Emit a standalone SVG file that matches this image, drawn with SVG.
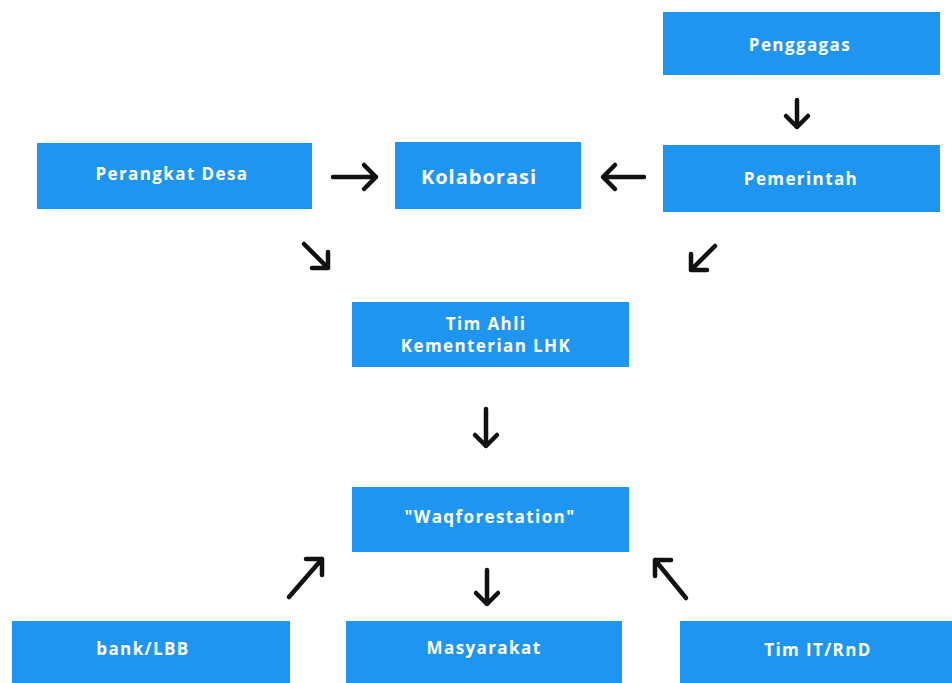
<svg xmlns="http://www.w3.org/2000/svg" width="952" height="683" viewBox="0 0 952 683">
<style>
.box{fill:#1F95F2}
.t{fill:#ffffff;font-family:"Open Sans","Liberation Sans",sans-serif;font-weight:700;font-size:17px;letter-spacing:1.4px;text-anchor:middle;dominant-baseline:central}
.big{font-size:20px;letter-spacing:1px}
.arr{fill:none;stroke:#111111;stroke-width:4.5;stroke-linecap:round;stroke-linejoin:round}
</style>
<rect width="952" height="683" fill="#ffffff"/>
<g id="penggagas"><rect class="box" x="663" y="12" width="277" height="63"/><text class="t" x="800" y="44">Penggagas</text></g>
<g id="pemerintah"><rect class="box" x="663" y="145" width="277" height="67"/><text class="t" x="801" y="178">Pemerintah</text></g>
<g id="perangkat-desa"><rect class="box" x="37" y="143" width="275" height="66"/><text class="t" x="172" y="173">Perangkat Desa</text></g>
<g id="kolaborasi"><rect class="box" x="395" y="142" width="186" height="67"/><text class="t big" x="479" y="176">Kolaborasi</text></g>
<g id="tim-ahli"><rect class="box" x="352" y="302" width="277" height="65"/><text class="t" x="486" y="323">Tim Ahli</text><text class="t" x="486" y="345">Kementerian LHK</text></g>
<g id="waqforestation"><rect class="box" x="352" y="487" width="277" height="65"/><text class="t" x="490" y="516">"Waqforestation"</text></g>
<g id="bank"><rect class="box" x="12" y="621" width="278" height="62"/><text class="t" x="143" y="648">bank/LBB</text></g>
<g id="masyarakat"><rect class="box" x="346" y="621" width="276" height="62"/><text class="t" x="484" y="647">Masyarakat</text></g>
<g id="tim-it"><rect class="box" x="680" y="621" width="272" height="62"/><text class="t" x="818" y="649">Tim IT/RnD</text></g>
<g id="connectors">
<path class="arr" d="M797 100V127M786 116L797 127L808 116"/>
<path class="arr" d="M333 177H376M364 165L376 177L364 189"/>
<path class="arr" d="M644 177H603M615 165L603 177L615 189"/>
<path class="arr" d="M304 244L328 268M312 268H328V252"/>
<path class="arr" d="M715 246L691 270M707 270H691V254"/>
<path class="arr" d="M486 409V446M475 435L486 446L497 435"/>
<path class="arr" d="M289 597L322 559M306 559H322V575"/>
<path class="arr" d="M487 570V604M476 593L487 604L498 593"/>
<path class="arr" d="M686 598L655 560M671 560H655V576"/>
</g>
</svg>
